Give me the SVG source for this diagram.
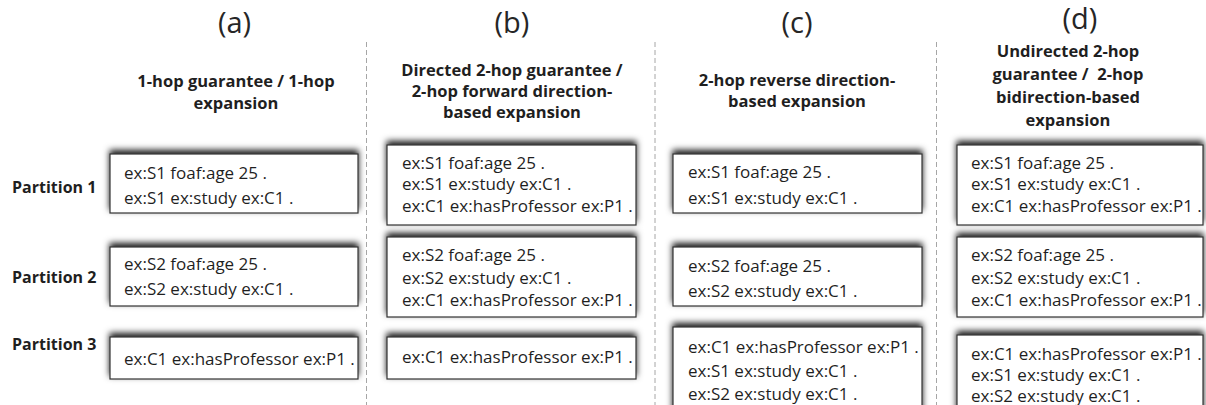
<svg xmlns="http://www.w3.org/2000/svg" width="1206" height="405" viewBox="0 0 1206 405">
  <style>
    .paren { font-family: "Open Sans", "Liberation Sans", sans-serif; font-size: 29px; fill: #262626; text-anchor: middle; }
    .head { font-family: "Open Sans", "Liberation Sans", sans-serif; font-size: 16.5px; font-weight: bold; fill: #1f1f1f; text-anchor: middle; }
    .part { font-family: "Open Sans", "Liberation Sans", sans-serif; font-size: 16px; font-weight: bold; fill: #1f1f1f; }
    .box { fill: #ffffff; stroke: #333333; stroke-width: 1.2; filter: url(#topShadow); }
    .triple { font-family: "Open Sans", "Liberation Sans", sans-serif; font-size: 17px; fill: #1f1f1f; }
    .sep { stroke: #a6a6a6; stroke-width: 1; stroke-dasharray: 5 3; fill: none; }
  </style>
  <defs>
    <filter id="topShadow" x="-5%" y="-30%" width="110%" height="150%">
      <feDropShadow dx="0" dy="-3.5" stdDeviation="3" flood-color="#000000" flood-opacity="0.9"/>
    </filter>
  </defs>

  <rect width="1206" height="405" fill="#ffffff"/>

  <!-- column separators -->
  <g id="separators">
    <line class="sep" x1="366.5" y1="42" x2="366.5" y2="405"/>
    <line class="sep" x1="655" y1="42" x2="655" y2="405"/>
    <line class="sep" x1="936.5" y1="42" x2="936.5" y2="405"/>
  </g>

  <!-- column headings -->
  <g id="heading-a">
    <text class="paren" x="234.5" y="33">(a)</text>
    <text class="head" x="236" y="87">1-hop guarantee / 1-hop</text>
    <text class="head" x="236" y="109">expansion</text>
  </g>
  <g id="heading-b">
    <text class="paren" x="512" y="33">(b)</text>
    <text class="head" x="512" y="76">Directed 2-hop guarantee /</text>
    <text class="head" x="512" y="97">2-hop forward direction-</text>
    <text class="head" x="512" y="118">based expansion</text>
  </g>
  <g id="heading-c">
    <text class="paren" x="797" y="33">(c)</text>
    <text class="head" x="797" y="86">2-hop reverse direction-</text>
    <text class="head" x="797" y="107">based expansion</text>
  </g>
  <g id="heading-d">
    <text class="paren" x="1080" y="29">(d)</text>
    <text class="head" x="1068" y="57">Undirected 2-hop</text>
    <text class="head" x="1068" y="80" xml:space="preserve">guarantee /  2-hop</text>
    <text class="head" x="1068" y="103">bidirection-based</text>
    <text class="head" x="1068" y="126">expansion</text>
  </g>

  <!-- row labels -->
  <g id="row-labels">
    <text class="part" x="12" y="193">Partition 1</text>
    <text class="part" x="12" y="283">Partition 2</text>
    <text class="part" x="12" y="350">Partition 3</text>
  </g>

  <!-- (a) 1-hop -->
  <g id="a-p1">
    <rect class="box" x="110" y="154" width="248" height="59"/>
    <text class="triple" x="124" y="179">ex:S1 foaf:age 25 .</text>
    <text class="triple" x="124" y="204">ex:S1 ex:study ex:C1 .</text>
  </g>
  <g id="a-p2">
    <rect class="box" x="110" y="247" width="248" height="59"/>
    <text class="triple" x="124" y="270">ex:S2 foaf:age 25 .</text>
    <text class="triple" x="124" y="295">ex:S2 ex:study ex:C1 .</text>
  </g>
  <g id="a-p3">
    <rect class="box" x="110" y="337" width="248" height="42"/>
    <text class="triple" x="124" y="365">ex:C1 ex:hasProfessor ex:P1 .</text>
  </g>

  <!-- (b) directed 2-hop -->
  <g id="b-p1">
    <rect class="box" x="387" y="145" width="249" height="80"/>
    <text class="triple" x="402" y="169">ex:S1 foaf:age 25 .</text>
    <text class="triple" x="402" y="190">ex:S1 ex:study ex:C1 .</text>
    <text class="triple" x="402" y="212">ex:C1 ex:hasProfessor ex:P1 .</text>
  </g>
  <g id="b-p2">
    <rect class="box" x="387" y="237" width="249" height="80"/>
    <text class="triple" x="402" y="261">ex:S2 foaf:age 25 .</text>
    <text class="triple" x="402" y="284">ex:S2 ex:study ex:C1 .</text>
    <text class="triple" x="402" y="306">ex:C1 ex:hasProfessor ex:P1 .</text>
  </g>
  <g id="b-p3">
    <rect class="box" x="387" y="337" width="249" height="42"/>
    <text class="triple" x="402" y="363">ex:C1 ex:hasProfessor ex:P1 .</text>
  </g>

  <!-- (c) reverse 2-hop -->
  <g id="c-p1">
    <rect class="box" x="673" y="154" width="249" height="59"/>
    <text class="triple" x="688" y="178">ex:S1 foaf:age 25 .</text>
    <text class="triple" x="688" y="204">ex:S1 ex:study ex:C1 .</text>
  </g>
  <g id="c-p2">
    <rect class="box" x="673" y="247" width="249" height="59"/>
    <text class="triple" x="688" y="272">ex:S2 foaf:age 25 .</text>
    <text class="triple" x="688" y="297">ex:S2 ex:study ex:C1 .</text>
  </g>
  <g id="c-p3">
    <rect class="box" x="673" y="327" width="249" height="90"/>
    <text class="triple" x="688" y="353">ex:C1 ex:hasProfessor ex:P1 .</text>
    <text class="triple" x="688" y="377">ex:S1 ex:study ex:C1 .</text>
    <text class="triple" x="688" y="400">ex:S2 ex:study ex:C1 .</text>
  </g>

  <!-- (d) undirected 2-hop -->
  <g id="d-p1">
    <rect class="box" x="957" y="145" width="246" height="80"/>
    <text class="triple" x="971" y="169">ex:S1 foaf:age 25 .</text>
    <text class="triple" x="971" y="190">ex:S1 ex:study ex:C1 .</text>
    <text class="triple" x="971" y="212">ex:C1 ex:hasProfessor ex:P1 .</text>
  </g>
  <g id="d-p2">
    <rect class="box" x="957" y="237" width="246" height="80"/>
    <text class="triple" x="971" y="261">ex:S2 foaf:age 25 .</text>
    <text class="triple" x="971" y="284">ex:S2 ex:study ex:C1 .</text>
    <text class="triple" x="971" y="306">ex:C1 ex:hasProfessor ex:P1 .</text>
  </g>
  <g id="d-p3">
    <rect class="box" x="957" y="335" width="246" height="90"/>
    <text class="triple" x="971" y="360">ex:C1 ex:hasProfessor ex:P1 .</text>
    <text class="triple" x="971" y="381">ex:S1 ex:study ex:C1 .</text>
    <text class="triple" x="971" y="402">ex:S2 ex:study ex:C1 .</text>
  </g>
</svg>
